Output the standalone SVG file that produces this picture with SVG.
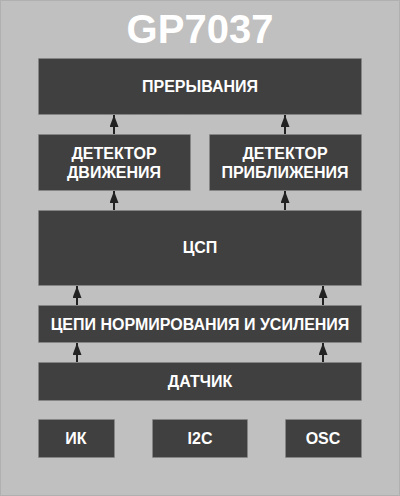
<svg xmlns="http://www.w3.org/2000/svg" width="400" height="496" viewBox="0 0 400 496">
<defs>
<marker id="ah" markerWidth="12" markerHeight="9" refX="12" refY="4.5" orient="auto" markerUnits="userSpaceOnUse" viewBox="0 0 12 9">
<path d="M0,0 L12,4.5 L0,9 Z" fill="#222"/>
</marker>
</defs>
<style>
.b{fill:#404040;stroke:#8a8a8a;stroke-width:1;stroke-dasharray:1 1}
.t{fill:#fff;font-family:"Liberation Sans",Arial,sans-serif;font-weight:bold;font-size:16px;text-anchor:middle}
.c line{stroke:#222;stroke-width:2}
</style>
<rect width="400" height="496" fill="#c0c0c0"/>
<rect x="0.5" y="0.5" width="399" height="495" fill="none" stroke="#b0b0b0"/>
<text x="200" y="43" style="fill:#fff;font-family:'Liberation Sans',Arial,sans-serif;font-weight:bold;font-size:40px;text-anchor:middle">GP7037</text>
<g id="n1"><rect class="b" x="38.5" y="58.5" width="323" height="56"/><text class="t" x="200" y="92">ПРЕРЫВАНИЯ</text></g>
<g id="n2"><rect class="b" x="38.5" y="134.5" width="152" height="56"/><text class="t" x="114" y="159">ДЕТЕКТОР</text><text class="t" x="114" y="178">ДВИЖЕНИЯ</text></g>
<g id="n3"><rect class="b" x="209.5" y="134.5" width="152" height="56"/><text class="t" x="285" y="159">ДЕТЕКТОР</text><text class="t" x="285" y="178">ПРИБЛИЖЕНИЯ</text></g>
<g id="n4"><rect class="b" x="38.5" y="210.5" width="323" height="75"/><text class="t" x="200" y="253">ЦСП</text></g>
<g id="n5"><rect class="b" x="38.5" y="305.5" width="323" height="37"/><text class="t" x="200" y="330">ЦЕПИ НОРМИРОВАНИЯ И УСИЛЕНИЯ</text></g>
<g id="n6"><rect class="b" x="38.5" y="362.5" width="323" height="38"/><text class="t" x="200" y="387">ДАТЧИК</text></g>
<g id="n7"><rect class="b" x="38.5" y="419.5" width="76" height="38"/><text class="t" x="76" y="444">ИК</text></g>
<g id="n8"><rect class="b" x="152.5" y="419.5" width="95" height="38"/><text class="t" x="200" y="444">I2C</text></g>
<g id="n9"><rect class="b" x="285.5" y="419.5" width="76" height="38"/><text class="t" x="323" y="444">OSC</text></g>
<g class="c" id="connectors">
<line x1="114" y1="134" x2="114" y2="115" marker-end="url(#ah)"/>
<line x1="285" y1="134" x2="285" y2="115" marker-end="url(#ah)"/>
<line x1="114" y1="210" x2="114" y2="191" marker-end="url(#ah)"/>
<line x1="285" y1="210" x2="285" y2="191" marker-end="url(#ah)"/>
<line x1="77" y1="305" x2="77" y2="286" marker-end="url(#ah)"/>
<line x1="323" y1="305" x2="323" y2="286" marker-end="url(#ah)"/>
<line x1="77" y1="362" x2="77" y2="343" marker-end="url(#ah)"/>
<line x1="323" y1="362" x2="323" y2="343" marker-end="url(#ah)"/>
</g>
</svg>
